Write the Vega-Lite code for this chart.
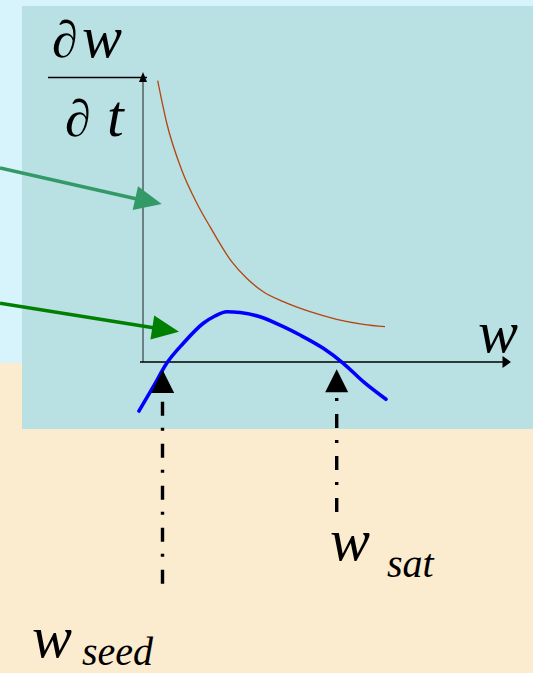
{
  "$schema": "https://vega.github.io/schema/vega-lite/v6.json",
  "autosize": "none",
  "width": 533,
  "height": 673,
  "padding": 0,
  "background": "#d7f4fd",
  "config": {"view": {"stroke": null}},
  "datasets": {
    "upperBand": [{"w": -143, "w2": 390, "r": -1, "r2": 362}],
    "lowerBand": [{"w": -143, "w2": 390, "r": -311, "r2": -1}],
    "panel": [{"w": -121, "w2": 390, "r": -67, "r2": 356}],
    "rateAxis": [{"w": 0, "w2": 0, "r": 0, "r2": 287}],
    "wAxis": [{"w": -3, "w2": 362, "r": 0, "r2": 0}],
    "fractionBar": [{"w": -95, "w2": 4, "r": 284.5, "r2": 284.5}],
    "rateAxisHead": [{"w": 0, "r": 290}],
    "wAxisHead": [{"w": 368, "r": 0}],
    "growth": [
      {"w": 14.7, "r": 281.3}, {"w": 23.7, "r": 239}, {"w": 38.7, "r": 192},
      {"w": 53.7, "r": 159}, {"w": 67, "r": 135.3}, {"w": 88.7, "r": 100.3},
      {"w": 103.7, "r": 83.7}, {"w": 120.3, "r": 70.3}, {"w": 140.3, "r": 60.3},
      {"w": 167, "r": 50.3}, {"w": 193.7, "r": 42.7}, {"w": 220.3, "r": 37.7},
      {"w": 242, "r": 35.3}
    ],
    "net": [
      {"w": -4, "r": -49}, {"w": 10.3, "r": -24.7}, {"w": 23.7, "r": -1.3},
      {"w": 40.3, "r": 18.7}, {"w": 60.3, "r": 38.7}, {"w": 72, "r": 46},
      {"w": 83.7, "r": 50.3}, {"w": 97, "r": 49.5}, {"w": 117, "r": 45.3},
      {"w": 140.3, "r": 35.3}, {"w": 157, "r": 27}, {"w": 180.3, "r": 13.7},
      {"w": 200.3, "r": -1.3}, {"w": 220.3, "r": -19.7}, {"w": 243, "r": -37.3}
    ],
    "pointerA": [{"w": -143, "w2": -6, "r": 194, "r2": 163}],
    "pointerAHead": [{"w": 18.7, "r": 158, "heading": 12.6}],
    "pointerB": [{"w": -143, "w2": 12, "r": 58.7, "r2": 34}],
    "pointerBHead": [{"w": 36, "r": 30.3, "heading": 9}],
    "markers": [{"w": 19.7, "r": -8}, {"w": 193.7, "r": -7.3}],
    "seedDrop": [{"w": 19.5, "r": -39.7, "r2": -223}],
    "satDrop": [{"w": 193.7, "r": -36, "r2": -150}],
    "uprightLabels": [
      {"w": -91, "r": 305, "text": "∂"},
      {"w": -78, "r": 226, "text": "∂"}
    ],
    "bigItalic": [
      {"w": -61, "r": 305, "text": "w"},
      {"w": -36, "r": 226, "text": "t"},
      {"w": 335, "r": 10, "text": "w"},
      {"w": 187, "r": -198, "text": "w"},
      {"w": -111, "r": -295, "text": "w"}
    ],
    "subscripts": [
      {"w": 244, "r": -215, "text": "sat"},
      {"w": -61, "r": -303, "text": "seed"}
    ]
  },
  "encoding": {
    "x": {"field": "w", "type": "quantitative", "scale": {"domain": [-143, 390], "nice": false, "zero": false}, "axis": null},
    "y": {"field": "r", "type": "quantitative", "scale": {"domain": [-311, 362], "nice": false, "zero": false}, "axis": null}
  },
  "layer": [
    {
      "data": {"name": "upperBand"},
      "mark": {"type": "rect", "color": "#d7f4fd"},
      "encoding": {"x2": {"field": "w2"}, "y2": {"field": "r2"}}
    },
    {
      "data": {"name": "lowerBand"},
      "mark": {"type": "rect", "color": "#fbebcf"},
      "encoding": {"x2": {"field": "w2"}, "y2": {"field": "r2"}}
    },
    {
      "data": {"name": "panel"},
      "mark": {"type": "rect", "color": "#b9e0e2"},
      "encoding": {"x2": {"field": "w2"}, "y2": {"field": "r2"}}
    },
    {
      "data": {"name": "rateAxis"},
      "mark": {"type": "rule", "color": "#6b8082", "strokeWidth": 2},
      "encoding": {"x2": {"field": "w2"}, "y2": {"field": "r2"}}
    },
    {
      "data": {"name": "wAxis"},
      "mark": {"type": "rule", "color": "#000000", "strokeWidth": 1.6},
      "encoding": {"x2": {"field": "w2"}, "y2": {"field": "r2"}}
    },
    {
      "data": {"name": "fractionBar"},
      "mark": {"type": "rule", "color": "#000000", "strokeWidth": 1.6},
      "encoding": {"x2": {"field": "w2"}, "y2": {"field": "r2"}}
    },
    {
      "data": {"name": "rateAxisHead"},
      "mark": {"type": "point", "shape": "M0,0L-0.8,2L0.8,2Z", "size": 100, "filled": true, "color": "#000000", "opacity": 1}
    },
    {
      "data": {"name": "wAxisHead"},
      "mark": {"type": "point", "shape": "M0,0L-2,-1.4L-2,1.4Z", "size": 72, "filled": true, "color": "#000000", "opacity": 1}
    },
    {
      "data": {"name": "growth"},
      "mark": {"type": "line", "color": "#b4450e", "strokeWidth": 1.3, "interpolate": "monotone"}
    },
    {
      "data": {"name": "net"},
      "mark": {"type": "line", "color": "#0000ff", "strokeWidth": 3.6, "interpolate": "monotone", "strokeCap": "round"}
    },
    {
      "data": {"name": "pointerA"},
      "mark": {"type": "rule", "color": "#339966", "strokeWidth": 3.4},
      "encoding": {"x2": {"field": "w2"}, "y2": {"field": "r2"}}
    },
    {
      "data": {"name": "pointerAHead"},
      "mark": {"type": "point", "shape": "M0,0L-2,-0.9L-2,0.9Z", "size": 729, "filled": true, "color": "#339966", "opacity": 1},
      "encoding": {"angle": {"field": "heading", "type": "quantitative", "scale": null}}
    },
    {
      "data": {"name": "pointerB"},
      "mark": {"type": "rule", "color": "#008000", "strokeWidth": 3.6},
      "encoding": {"x2": {"field": "w2"}, "y2": {"field": "r2"}}
    },
    {
      "data": {"name": "pointerBHead"},
      "mark": {"type": "point", "shape": "M0,0L-2,-0.9L-2,0.9Z", "size": 729, "filled": true, "color": "#008000", "opacity": 1},
      "encoding": {"angle": {"field": "heading", "type": "quantitative", "scale": null}}
    },
    {
      "data": {"name": "markers"},
      "mark": {"type": "point", "shape": "M0,0L-1,2L1,2Z", "size": 529, "filled": true, "color": "#000000", "opacity": 1}
    },
    {
      "data": {"name": "seedDrop"},
      "mark": {"type": "rule", "color": "#000000", "strokeWidth": 3.4, "strokeDash": [14, 12, 3, 13]},
      "encoding": {"y2": {"field": "r2"}}
    },
    {
      "data": {"name": "satDrop"},
      "mark": {"type": "rule", "color": "#000000", "strokeWidth": 3.4, "strokeDash": [3, 13, 14, 12]},
      "encoding": {"y2": {"field": "r2"}}
    },
    {
      "data": {"name": "uprightLabels"},
      "mark": {"type": "text", "font": "Liberation Serif", "fontSize": 52, "align": "left", "baseline": "alphabetic", "color": "#000000"},
      "encoding": {"text": {"field": "text"}}
    },
    {
      "data": {"name": "bigItalic"},
      "mark": {"type": "text", "font": "Liberation Serif", "fontStyle": "italic", "fontSize": 60, "align": "left", "baseline": "alphabetic", "color": "#000000"},
      "encoding": {"text": {"field": "text"}}
    },
    {
      "data": {"name": "subscripts"},
      "mark": {"type": "text", "font": "Liberation Serif", "fontStyle": "italic", "fontSize": 40, "align": "left", "baseline": "alphabetic", "color": "#000000"},
      "encoding": {"text": {"field": "text"}}
    }
  ]
}
